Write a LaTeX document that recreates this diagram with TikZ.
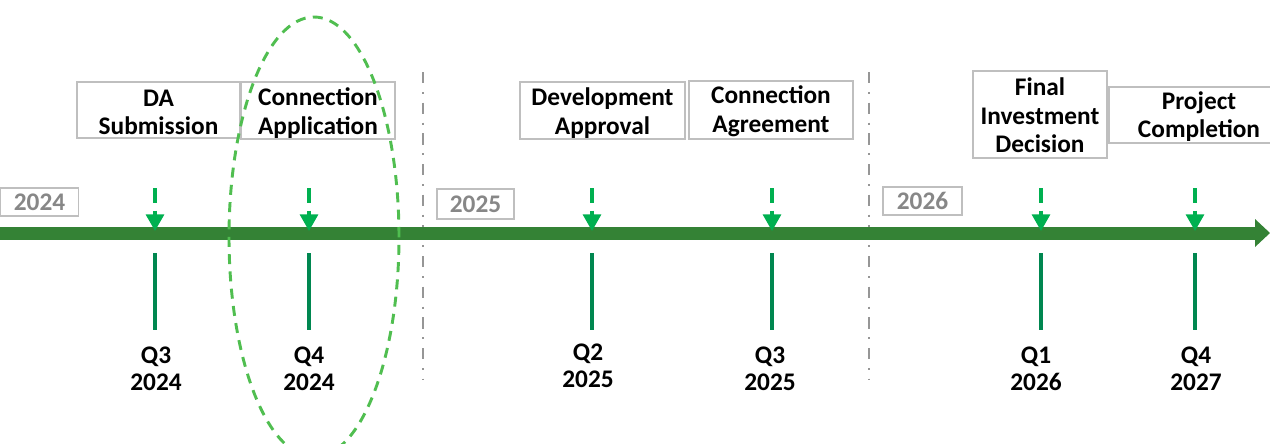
\documentclass[tikz,border=0pt]{standalone}
\usepackage{fontspec}
\setmainfont{Carlito}
\usetikzlibrary{arrows.meta,shapes.geometric}
\definecolor{axisgreen}{RGB}{52,130,53}
\definecolor{arrowgreen}{RGB}{0,176,80}
\definecolor{tickgreen}{RGB}{0,135,80}
\definecolor{ovalgreen}{RGB}{80,190,80}
\definecolor{boxgray}{RGB}{191,191,191}
\definecolor{yeargray}{RGB}{135,135,135}
\definecolor{sepgray}{RGB}{150,150,150}
\tikzset{
  eventbox/.style={draw=boxgray, line width=0.9pt, fill=white, inner sep=0pt},
  eventtext/.style={align=center, inner sep=0pt,
    font=\bfseries\fontsize{19}{21.5}\selectfont, text=black},
  yearbox/.style={draw=boxgray, line width=0.9pt, fill=white, inner sep=0pt,
    font=\bfseries\fontsize{19}{21}\selectfont, text=yeargray},
  qlabel/.style={align=center, inner sep=0pt, font=\bfseries\fontsize{19}{20}\selectfont, text=black},
  dasharrow/.style={draw=arrowgreen, line width=2.4pt, dash pattern=on 11pt off 6pt,
    -{Triangle[width=13.5pt,length=12.5pt]}},
  tickline/.style={draw=tickgreen, line width=3.2pt},
  separator/.style={draw=sepgray, line width=2.2pt, dash pattern=on 8.5pt off 6.5pt on 1.5pt off 6.5pt},
  oval/.style={draw=ovalgreen, line width=2.2pt, dash pattern=on 7.5pt off 5.5pt},
}
\begin{document}
\begin{tikzpicture}[x=0.75pt,y=-0.75pt]
\useasboundingbox (0,0) rectangle (1270,443);
\clip (0,0) rectangle (1270,443);

% separators
\coordinate (s1t) at (423,72); \coordinate (s1b) at (423,380);
\coordinate (s2t) at (869,72); \coordinate (s2b) at (869,380);
\draw[separator] (s1t) -- (s1b);
\draw[separator] (s2t) -- (s2b);

% main axis
\coordinate (axs) at (0,233);
\coordinate (axe) at (1255,233);
\draw[axisgreen, line width=9.75pt] (axs) -- (axe);
\fill[axisgreen] (1255,219) -- (1270,233) -- (1255,247) -- cycle;

% year boxes
\node[yearbox, minimum width=78*0.75pt, minimum height=28*0.75pt] (y24) at (39.5,202) {2024};
\node[yearbox, minimum width=77*0.75pt, minimum height=30*0.75pt] (y25) at (475.5,204) {2025};
\node[yearbox, minimum width=79*0.75pt, minimum height=28*0.75pt] (y26) at (922.5,201) {2026};

% event boxes
\node[eventbox, minimum width=163*0.75pt, minimum height=56*0.75pt] (e1) at (158.5,110) {};
\node[eventbox, minimum width=154*0.75pt, minimum height=57*0.75pt] (e2) at (318,110.5) {};
\node[eventbox, minimum width=165*0.75pt, minimum height=57*0.75pt] (e3) at (602.5,110.5) {};
\node[eventbox, minimum width=164*0.75pt, minimum height=58*0.75pt] (e4) at (771,110) {};
\node[eventbox, minimum width=134*0.75pt, minimum height=87*0.75pt] (e5) at (1040,114.5) {};
\node[eventbox, minimum width=180*0.75pt, minimum height=56*0.75pt] (e6) at (1199,115) {};
\node[eventtext] (e1t) at ([yshift=-2.5*0.75pt]e1.center) {DA\\Submission};
\node[eventtext] (e2t) at ([yshift=-2.5*0.75pt]e2.center) {Connection\\Application};
\node[eventtext] (e3t) at ([yshift=-2.5*0.75pt]e3.center) {Development\\Approval};
\node[eventtext] (e4t) at ([yshift=-1.5*0.75pt]e4.center) {Connection\\Agreement};
\node[eventtext] (e5t) at ([yshift=-1*0.75pt]e5.center) {Final\\Investment\\Decision};
\node[eventtext] (e6t) at ([yshift=-1.5*0.75pt]e6.center) {Project\\Completion};

% dashed arrows and ticks
\foreach \n/\x in {1/155,2/309,3/592,4/772,5/1041,6/1195}{
  \coordinate (a\n) at (\x,188);
  \coordinate (t\n) at (\x,231);
  \coordinate (k\n) at (\x,253);
  \coordinate (kb\n) at (\x,330);
  \draw[dasharrow] (a\n) -- (t\n);
  \draw[tickline] (k\n) -- (kb\n);
}

% quarter labels
\node[qlabel] (q1) at (156,369) {Q3\\2024};
\node[qlabel] (q2) at (309,369) {Q4\\2024};
\node[qlabel] (q3) at (588,366) {Q2\\2025};
\node[qlabel] (q4) at (770,369) {Q3\\2025};
\node[qlabel] (q5) at (1036,369) {Q1\\2026};
\node[qlabel] (q6) at (1196,369) {Q4\\2027};

% highlight oval
\node[oval, ellipse, minimum width=170*0.75pt, minimum height=440*0.75pt, inner sep=0pt] (ov) at (314,237) {};
\end{tikzpicture}
\end{document}
